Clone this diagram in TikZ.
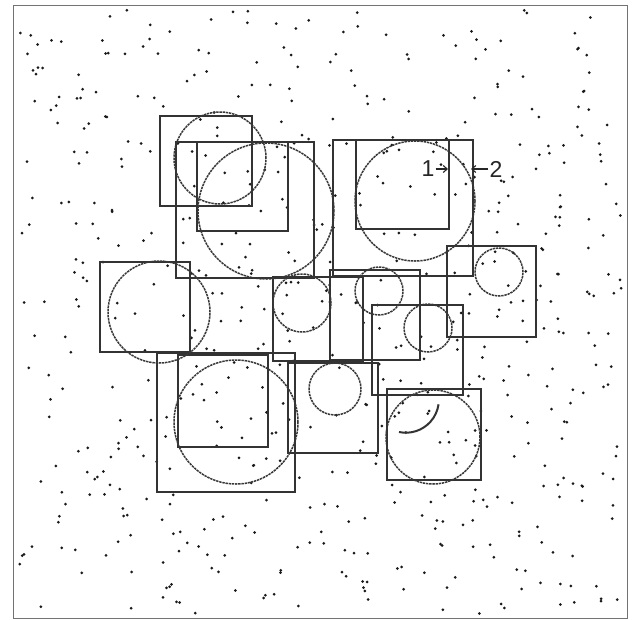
\documentclass[tikz,border=0pt]{standalone}
\usepackage{fontspec}
\setmainfont{Liberation Sans}
\usetikzlibrary{arrows.meta}

\begin{document}
\begin{tikzpicture}[
    x=1pt, y=-1pt,
    % ---- styles -------------------------------------------------
    frame/.style={draw=black!55, line width=1pt},
    box/.style={draw=black!80, line width=1.6pt},
    ring/.style={draw=black!78, line width=1.5pt, dash pattern=on 2.4pt off 0.8pt},
    spot/.style={fill=black!90},
    lbl/.style={font=\fontsize{23}{23}\selectfont, text=black!85, inner sep=0pt},
    pointer/.style={-{Straight Barb[length=4pt,width=7pt]}, line width=1.1pt, draw=black!85},
]

% =================== page and frame ===========================
\fill[white] (0,0) rectangle (639,619);
\useasboundingbox (0,0) rectangle (639,619);
\draw[frame] (13,5) rectangle (627,618);

% =================== scattered dots ===========================
\pgfmathsetseed{4711}
\foreach \i in {1,...,600}{
    \pgfmathsetmacro{\px}{18+604*rnd}
    \pgfmathsetmacro{\py}{10+604*rnd}
    \fill[spot] (\px,\py) circle (1.5pt);
}

% =================== squares ==================================
\draw[box] (160,116) rectangle (252,206);
\draw[box] (176,142) rectangle (314,278);
\draw[box] (197,142) rectangle (288,231);
\draw[box] (333,140) rectangle (473,276);
\draw[box] (356,140) rectangle (449,229);
\draw[box] (447,246) rectangle (536,337);
\draw[box] (100,262) rectangle (190,352);
\draw[box] (273,277) rectangle (363,361);
\draw[box] (330,270) rectangle (420,360);
\draw[box] (372,305) rectangle (463,395);
\draw[box] (157,353) rectangle (295,492);
\draw[box] (178,355) rectangle (268,447);
\draw[box] (288,363) rectangle (378,453);
\draw[box] (387,389) rectangle (481,480);

% =================== circles ==================================
\draw[ring] (220,158) circle (46pt);
\draw[ring] (266,211) circle (68pt);
\draw[ring] (415,201) circle (60pt);
\draw[ring] (499,272) circle (24pt);
\draw[ring] (159,312) circle (51pt);
\draw[ring] (302,303) circle (29pt);
\draw[ring] (379,291) circle (24pt);
\draw[ring] (428,328) circle (24pt);
\draw[ring] (236,422) circle (62pt);
\draw[ring] (335,389) circle (26pt);
\draw[ring] (433,437) circle (47pt);
\draw[box, line width=2pt] (399,432) arc[start angle=258, end angle=352, radius=33pt];

% =================== labels ===================================
\node[lbl] (one) at (428,169) {1};
\node[lbl] (two) at (496,169) {2};
\coordinate (edge1) at (448,169);
\coordinate (edge2) at (471,169);
\draw[pointer] (one.east) ++(1pt,0) -- (edge1);
\draw[pointer] (two.west) ++(-1pt,0) -- (edge2);

\end{tikzpicture}
\end{document}
